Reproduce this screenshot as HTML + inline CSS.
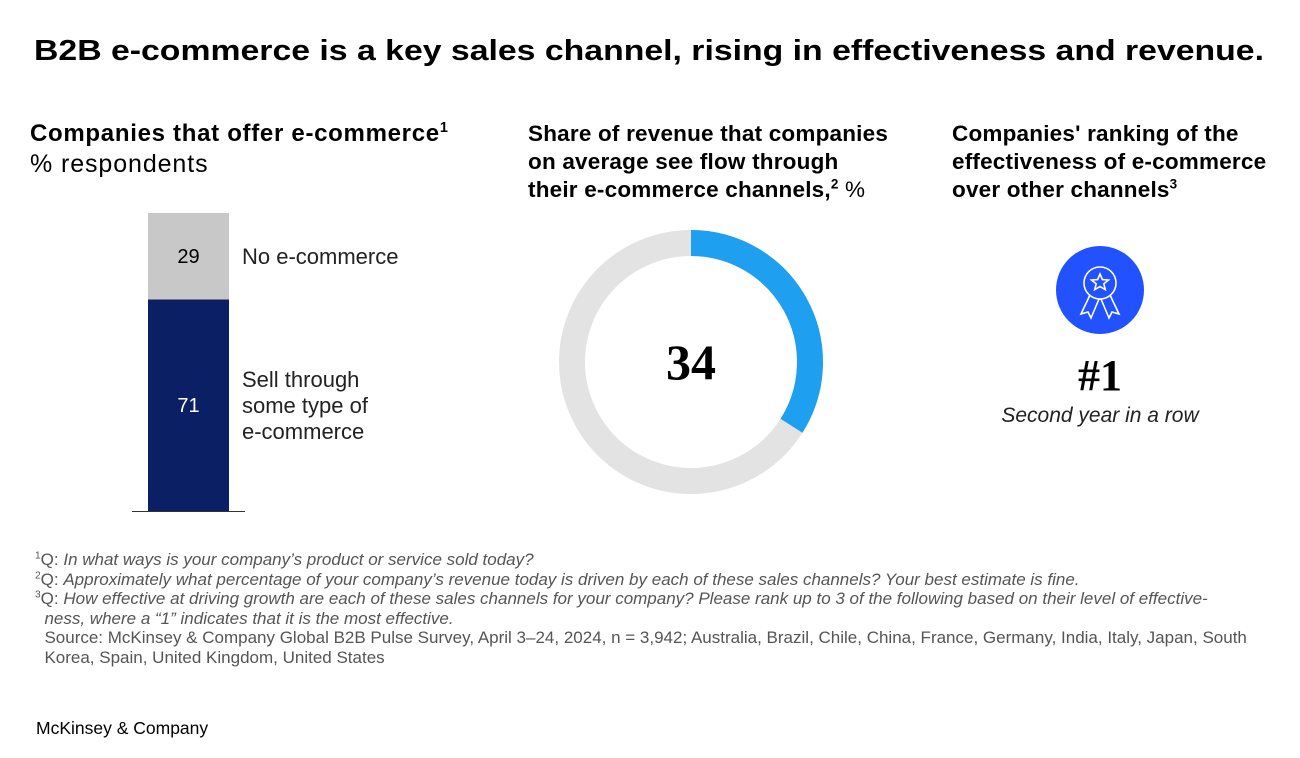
<!DOCTYPE html>
<html><head><meta charset="utf-8"><style>
body{margin:0;width:1300px;height:758px;background:#fff;font-family:"Liberation Sans",sans-serif;color:#000;position:relative;overflow:hidden}
.a{position:absolute;white-space:nowrap}
h1{position:absolute;left:34px;top:35px;margin:0;font-size:29px;font-weight:bold;transform:scaleX(1.165);transform-origin:left top}
.h{font-size:22.5px;font-weight:bold;line-height:28px;letter-spacing:0.2px}
.fn{font-size:17px;color:#555;line-height:19.5px}
.fn i{font-style:italic}
sup{font-size:60%;vertical-align:super;line-height:0}
</style></head><body>
<h1>B2B e-commerce is a key sales channel, rising in effectiveness and revenue.</h1>
<div class="a h" style="left:30px;top:119px;font-size:24px;letter-spacing:0.7px;line-height:30px">Companies that offer e-commerce<sup>1</sup><br><span style="font-weight:normal;font-size:25px;letter-spacing:0.9px">% respondents</span></div>
<div class="a h" style="left:528px;top:120px">Share of revenue that companies<br>on average see flow through<br>their e-commerce channels,<sup>2</sup> <span style="font-weight:normal">%</span></div>
<div class="a h" style="left:952px;top:120px">Companies' ranking of the<br>effectiveness of e-commerce<br>over other channels<sup>3</sup></div>

<svg id="bar" class="a" style="left:0;top:0" width="450" height="540"></svg>
<svg id="donut" class="a" style="left:540px;top:210px" width="310" height="310"></svg>

<svg class="a" style="left:1056px;top:246px" width="88" height="88">
<circle cx="44" cy="44" r="44" fill="#2251FF"/>
<g fill="none" stroke="#fff" stroke-width="1.6">
<circle cx="44" cy="37" r="16"/>
<polygon points="44,28 46.4,33.6 52.5,34 47.8,37.8 49.3,43.6 44,40.5 38.7,43.6 40.2,37.8 35.5,34 41.6,33.6"/>
<path d="M34,49 L25,68 L32,66 L35,72 L43,53"/><path d="M54,49 L63,68 L56,66 L53,72 L45,53"/>
</g></svg>
<div class="a" style="left:1000px;top:350px;width:200px;text-align:center;font-family:'Liberation Serif',serif;font-weight:bold;font-size:44px">#1</div>
<div class="a" style="left:990px;top:404px;width:220px;text-align:center;font-style:italic;font-size:21px;color:#222">Second year in a row</div>

<div class="a fn" style="left:35px;top:550px">
<sup>1</sup>Q: <i>In what ways is your company’s product or service sold today?</i><br>
<sup>2</sup>Q: <i>Approximately what percentage of your company’s revenue today is driven by each of these sales channels? Your best estimate is fine.</i><br>
<sup>3</sup>Q: <i>How effective at driving growth are each of these sales channels for your company? Please rank up to 3 of the following based on their level of effective-</i><br>
&nbsp;&nbsp;<i>ness, where a “1” indicates that it is the most effective.</i><br>
&nbsp;&nbsp;Source: McKinsey &amp; Company Global B2B Pulse Survey, April 3–24, 2024, n = 3,942; Australia, Brazil, Chile, China, France, Germany, India, Italy, Japan, South<br>
&nbsp;&nbsp;Korea, Spain, United Kingdom, United States</div>
<div class="a" style="left:36px;top:718px;font-size:17.5px">McKinsey &amp; Company</div>

<script>
const barCategories=["Sell through some type of e-commerce","No e-commerce"];
const barValues=[71,29];
const barLabels=[["Sell through","some type of","e-commerce"],["No e-commerce"]];
const barColors=["#0B1F65","#C8C8C8"];
const donutValue=[34];
const donutLabel=["34"];

const NS="http://www.w3.org/2000/svg";
function mk(p,t,at){const e=document.createElementNS(NS,t);for(const k in at)e.setAttribute(k,at[k]);p.appendChild(e);return e;}
(function(){
 const s=document.getElementById('bar');
 const base=511,top=213,total=barValues.reduce((a,b)=>a+b,0);
 const y=v=>base-(v/total)*(base-top);
 let cum=0;
 barValues.forEach((v,i)=>{
  const y0=y(cum),y1=y(cum+v);cum+=v;
  const r=mk(s,'rect',{x:148,y:y1,width:81,height:y0-y1,fill:barColors[i]});
  
  
  const mid=(y0+y1)/2;
  const t=mk(s,'text',{x:188.5,y:mid+7,'text-anchor':'middle','font-size':20,fill:i==0?'#fff':'#000'});
  t.textContent=v;
  
  
  const L=barLabels[i];
  L.forEach((ln,j)=>{const tt=mk(s,'text',{x:242,y:mid+8+(j-(L.length-1)/2)*26,'font-size':22,fill:'#222'});tt.textContent=ln;
   
   });
 });
 const l=mk(s,'line',{x1:132,x2:245,y1:base+0.5,y2:base+0.5,stroke:'#333','stroke-width':1});
 
 
})();
(function(){
 const s=document.getElementById('donut');
 const cx=151,cy=152,r=119;
 const bg=mk(s,'circle',{cx:cx,cy:cy,r:r,fill:'none',stroke:'#E3E3E3','stroke-width':26});
 
 
 const a=donutValue[0]/100*2*Math.PI;
 const x1=cx+r*Math.sin(a),y1=cy-r*Math.cos(a);
 const p=mk(s,'path',{d:`M${cx},${cy-r} A${r},${r} 0 ${a>Math.PI?1:0} 1 ${x1},${y1}`,fill:'none',stroke:'#1E9FF0','stroke-width':26});
 
 
 const t=mk(s,'text',{x:cx,y:cy+17,'text-anchor':'middle','font-family':'Liberation Serif,serif','font-weight':'bold','font-size':50});
 t.textContent=donutLabel[0];
 
 
})();
</script>
</body></html>
